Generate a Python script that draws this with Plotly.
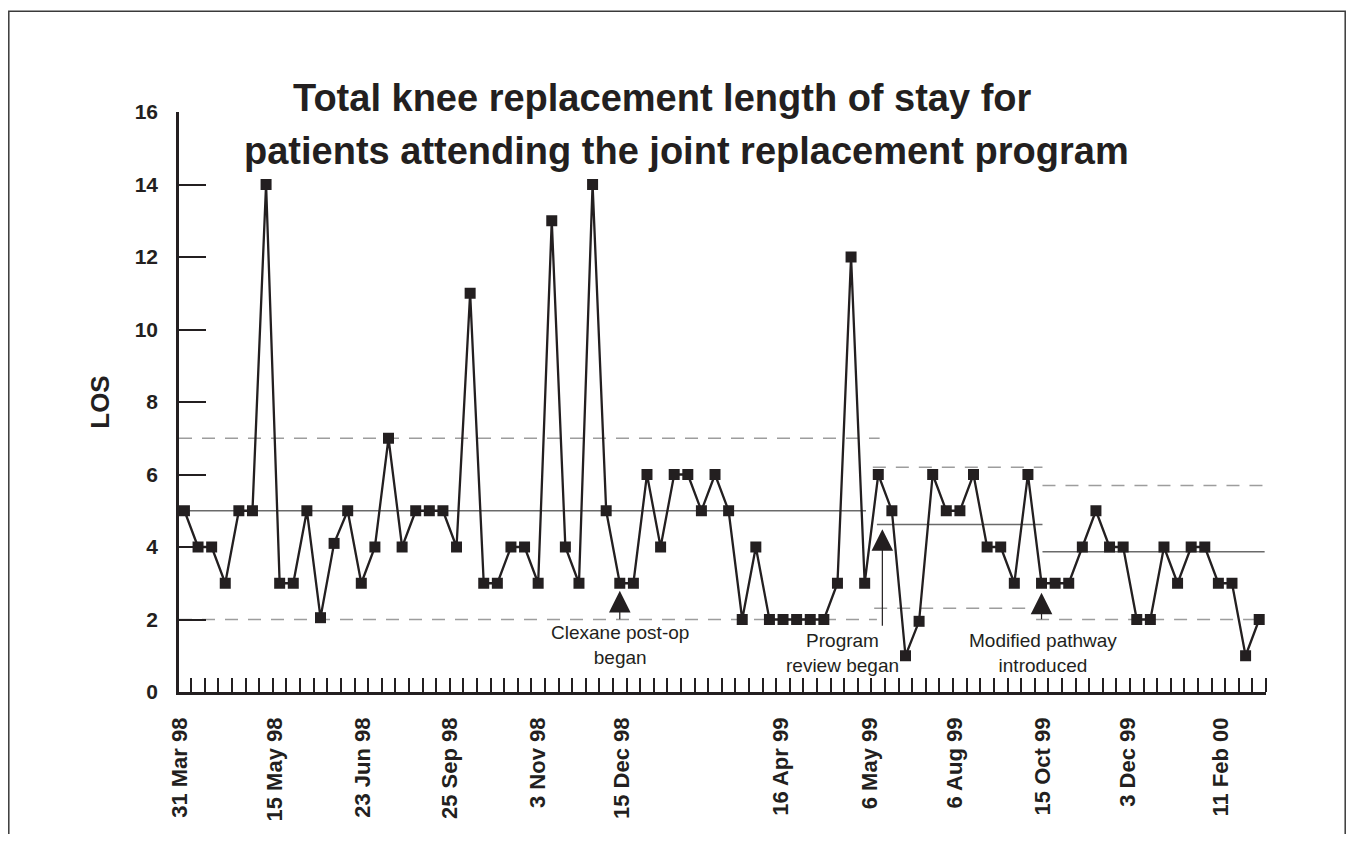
import plotly.graph_objects as go

# ---- data -------------------------------------------------------------
los = [5, 4, 4, 3, 5, 5, 14, 3, 3, 5, 2.05, 4.1, 5, 3, 4, 7, 4, 5, 5, 5,
       4, 11, 3, 3, 4, 4, 3, 13, 4, 3, 14, 5, 3, 3, 6, 4, 6, 6, 5, 6,
       5, 2, 4, 2, 2, 2, 2, 2, 3, 12, 3, 6, 5, 1, 1.95, 6, 5, 5, 6, 4,
       4, 3, 6, 3, 3, 3, 4, 5, 4, 4, 2, 2, 4, 3, 4, 4, 3, 3, 1, 2]
patient = list(range(len(los)))

date_labels = ["31 Mar 98", "15 May 98", "23 Jun 98", "25 Sep 98", "3 Nov 98",
               "15 Dec 98", "16 Apr 99", "6 May 99", "6 Aug 99", "15 Oct 99",
               "3 Dec 99", "11 Feb 00"]
date_at_patient = [-0.35, 6.68, 13.14, 19.53, 25.99, 32.16, 43.83, 50.37,
                   56.61, 63.07, 69.31, 76.21]

y_ticks = [0, 2, 4, 6, 8, 10, 12, 14, 16]

# control chart phases
phase_mean = [5.0, 4.62, 3.87]
phase_ucl = [7.0, 6.2, 5.7]
phase_lcl = [2.0, 2.31, 2.0]
mean_span = [(-0.4, 50.1), (50.9, 63.07), (63.07, 79.4)]
ucl_span = [(-0.4, 51.1), (50.6, 63.07), (63.07, 79.4)]
lcl_span = [(-0.4, 50.9), (50.7, 62.6), (62.6, 79.4)]

events = ["Clexane post-op<br>began", "Program<br>review began",
          "Modified pathway<br>introduced"]
event_patient = [32.0, 51.3, 63.0]

# ---- figure -----------------------------------------------------------
INK = "#231f20"
FONT = "Liberation Sans, Arial, sans-serif"
PAGE_OFF = 8                      # browser body margin
W, H = 1354 - 2 * PAGE_OFF, 842 - 2 * PAGE_OFF
L, T = 179 - PAGE_OFF, 112 - PAGE_OFF
R = W - (1266 - PAGE_OFF)
B = H - (697 - PAGE_OFF)
PW, PH = W - L - R, H - T - B


def px_x(p):
    return (p - PAGE_OFF - L) / PW


def px_y(p):
    return (H - B - (p - PAGE_OFF)) / PH


fig = go.Figure()

for vals, spans, col, dash in [
    (phase_ucl, ucl_span, "#9d9d9d", "13px,10px"),
    (phase_lcl, lcl_span, "#9d9d9d", "13px,10px"),
    (phase_mean, mean_span, "#6a6a6a", "solid"),
]:
    for v, (a, b) in zip(vals, spans):
        fig.add_trace(go.Scatter(
            x=[a, b], y=[v, v], mode="lines",
            line=dict(color=col, width=1.5, dash=dash),
            hoverinfo="skip", showlegend=False))

fig.add_trace(go.Scatter(
    x=patient, y=los, mode="lines+markers",
    line=dict(color=INK, width=2.3),
    marker=dict(symbol="square", size=11, color=INK),
    showlegend=False, name="LOS"))

# event arrows and texts
arrow_tip = [2.79, 4.49, 2.74]
arrow_len = [30, 98, 28]
text_y = [1.3, 1.08, 1.08]
text_x = [32.0, 48.4, 63.1]
for i, ev in enumerate(events):
    fig.add_annotation(
        x=event_patient[i], y=arrow_tip[i], ax=0, ay=arrow_len[i],
        text="", showarrow=True, arrowhead=2, arrowsize=3.6,
        arrowwidth=1.2, arrowcolor=INK, standoff=0)
    fig.add_annotation(
        x=text_x[i], y=text_y[i], text=ev, showarrow=False,
        font=dict(family=FONT, size=19, color=INK),
        xanchor="center", yanchor="middle", align="center")

# title
fig.add_annotation(
    xref="paper", yref="paper", x=px_x(662), y=px_y(98),
    text="Total knee replacement length of stay for", showarrow=False,
    font=dict(family=FONT, size=38, color=INK, weight=700),
    xanchor="center", yanchor="middle")
fig.add_annotation(
    xref="paper", yref="paper", x=px_x(686), y=px_y(151),
    text="patients attending the joint replacement program", showarrow=False,
    font=dict(family=FONT, size=38, color=INK, weight=700),
    xanchor="center", yanchor="middle")

# outer frame
fig.add_shape(type="rect", xref="paper", yref="paper",
              x0=px_x(8.8), x1=px_x(1345.2), y0=px_y(900), y1=px_y(10.5),
              line=dict(color="#3a3a3a", width=1.5), layer="below")

fig.update_layout(
    width=W, height=H,
    margin=dict(l=L, r=R, t=T, b=B),
    paper_bgcolor="white", plot_bgcolor="white",
    font=dict(family=FONT, color=INK),
    xaxis=dict(
        range=[-0.4, 79.5], tickmode="array",
        tickvals=date_at_patient, ticktext=date_labels,
        tickangle=-90, ticks="", showgrid=False, zeroline=False,
        showline=True, linecolor=INK, linewidth=2.5,
        tickfont=dict(family=FONT, size=22, color=INK, weight=700),
        ticklabelstandoff=14,
        minor=dict(tickvals=[i + 0.5 for i in range(80)], ticks="inside",
                   ticklen=14, tickwidth=2, tickcolor=INK, showgrid=False),
    ),
    yaxis=dict(
        range=[0, 16], tickmode="array", tickvals=y_ticks,
        ticks="inside", ticklen=27, tickwidth=2, tickcolor=INK,
        showgrid=False, zeroline=False,
        showline=True, linecolor=INK, linewidth=2.5,
        tickfont=dict(family=FONT, size=21, color=INK, weight=700),
        ticklabelstandoff=14,
        title=dict(text="LOS", standoff=18,
                   font=dict(family=FONT, size=26, color=INK, weight=700)),
    ),
)

fig.write_html("out.html")
